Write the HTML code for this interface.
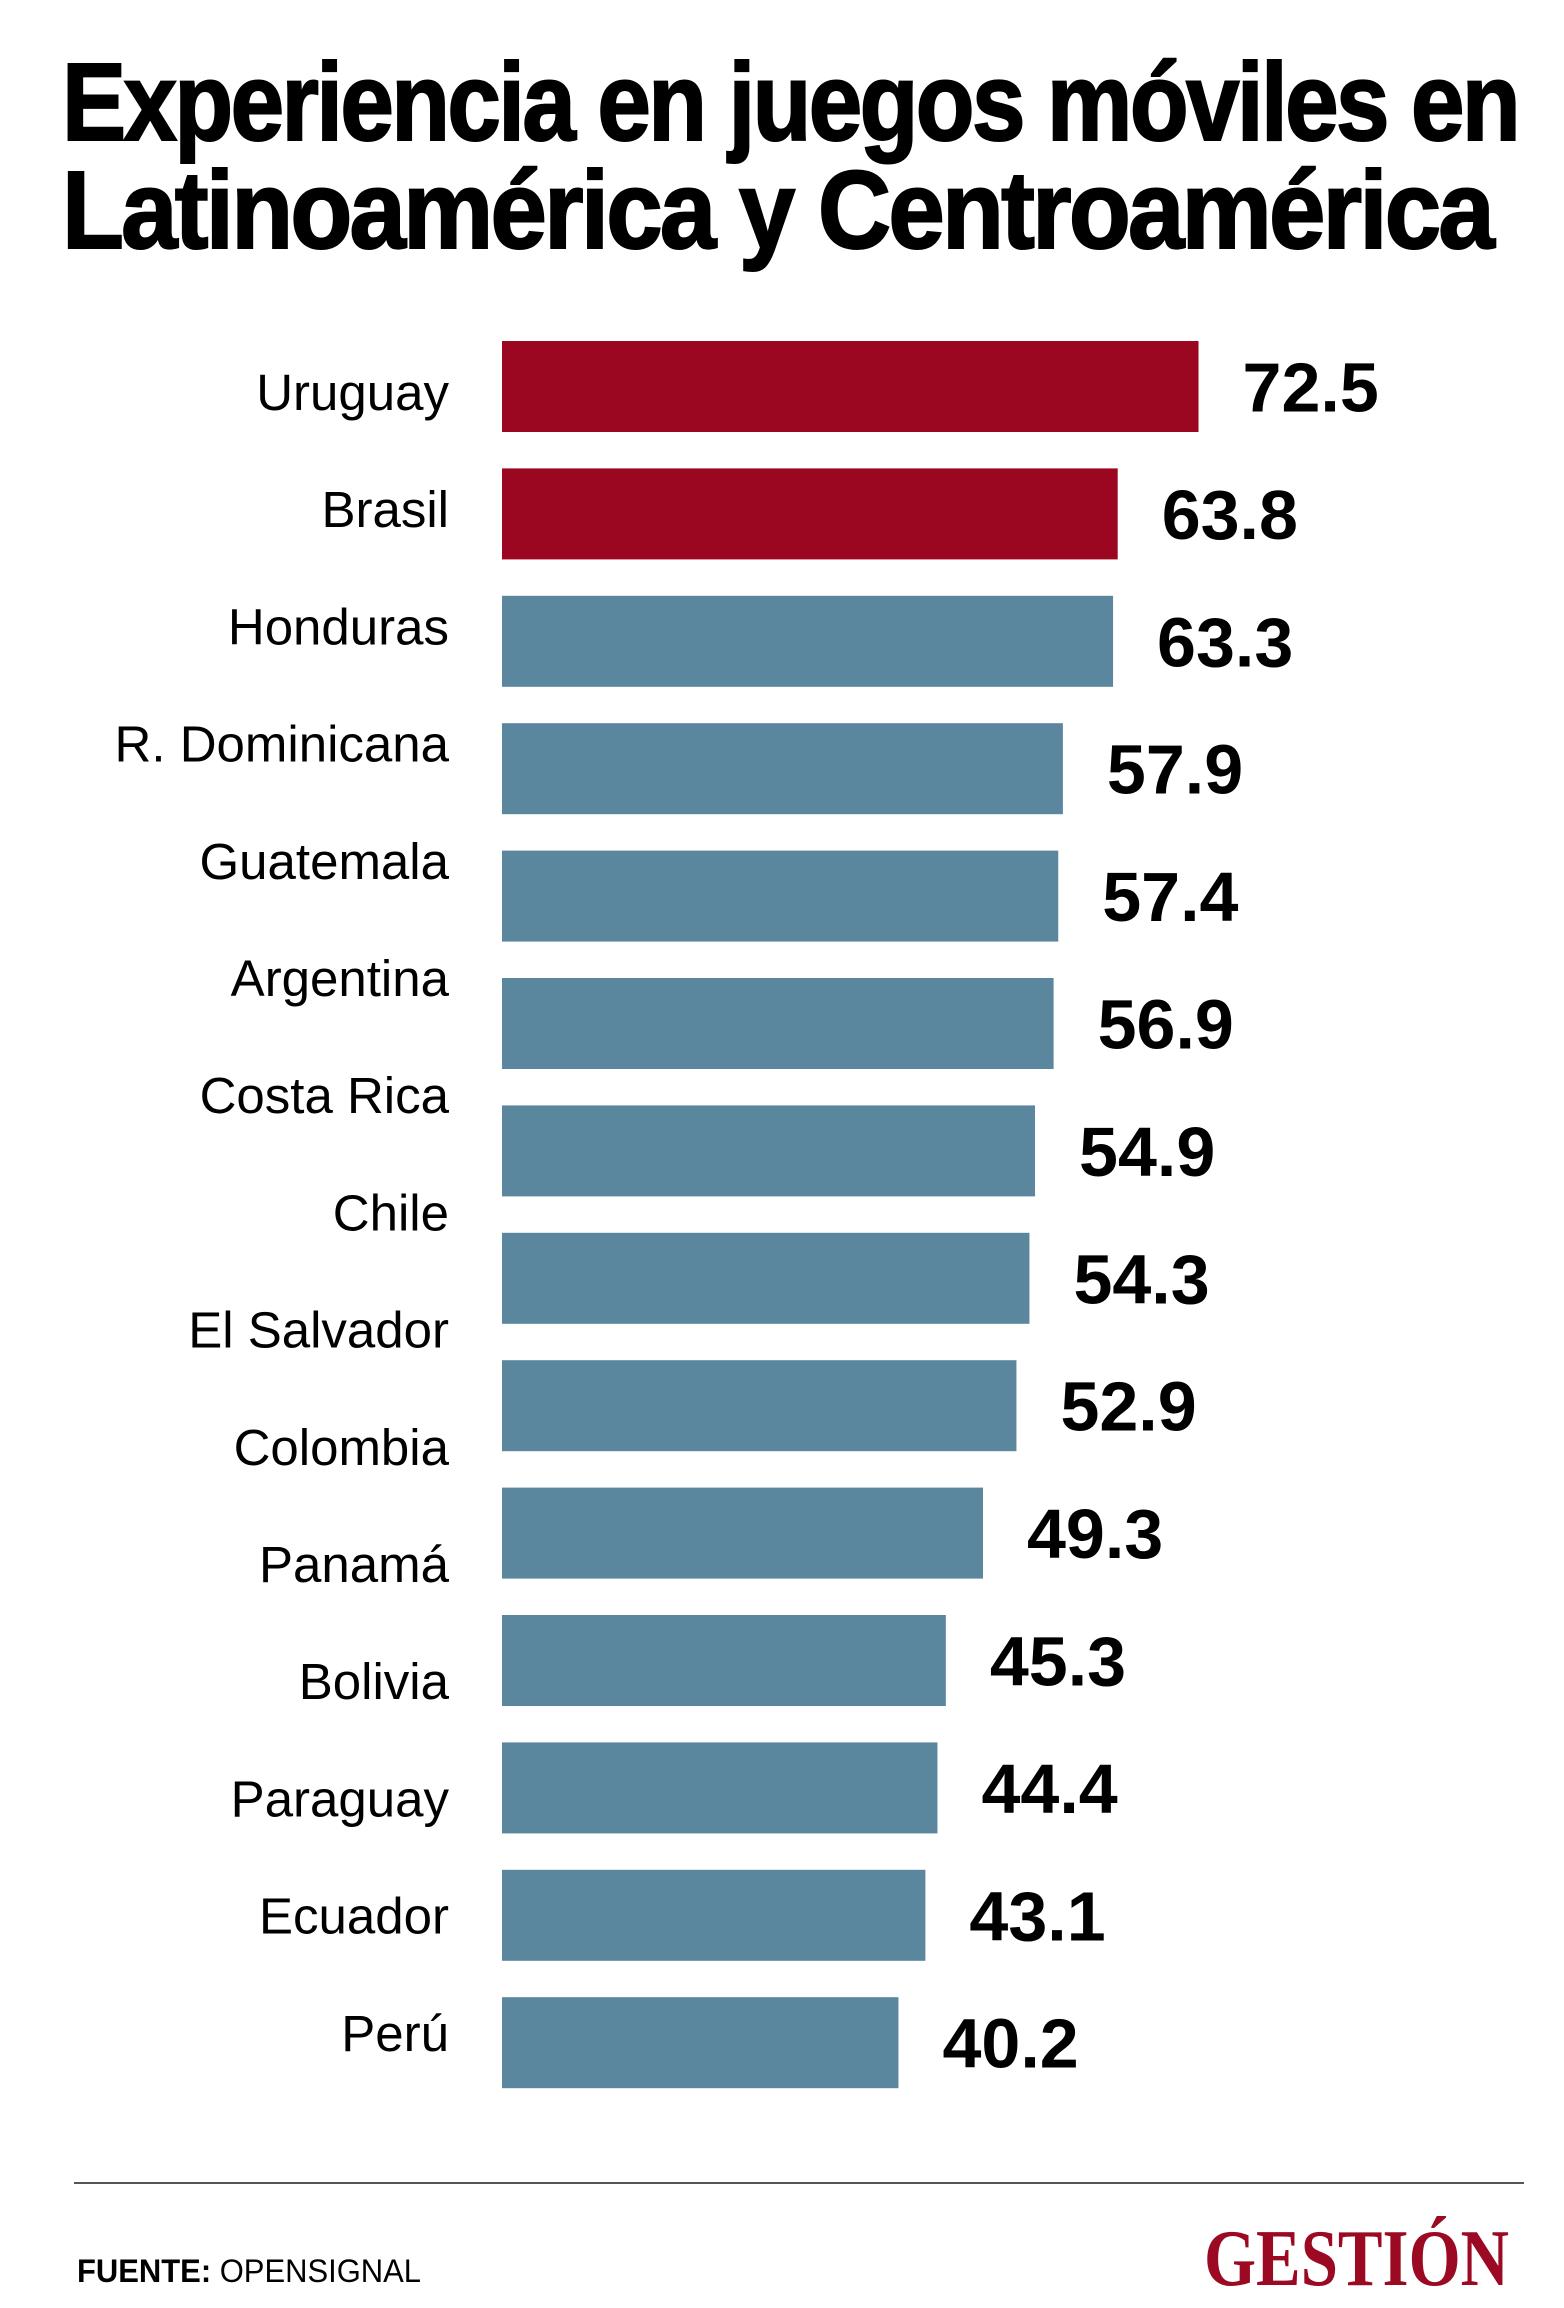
<!DOCTYPE html>
<html><head><meta charset="utf-8"><style>
html,body{margin:0;padding:0;background:#fff}
svg{display:block}
</style></head><body>
<svg id="chart" width="1564" height="2308" viewBox="0 0 1564 2308" xmlns="http://www.w3.org/2000/svg">
<g font-family="Liberation Sans, sans-serif" font-weight="bold" fill="#000">
<text x="62" y="140" font-size="110" textLength="1456" lengthAdjust="spacingAndGlyphs" letter-spacing="-3" stroke="#000" stroke-width="2">Experiencia en juegos móviles en</text>
<text x="62" y="248" font-size="110" textLength="1430" lengthAdjust="spacingAndGlyphs" letter-spacing="-3" stroke="#000" stroke-width="2">Latinoamérica y Centroamérica</text>
</g>
<g id="bars"></g>
<line x1="74" y1="2183" x2="1524" y2="2183" stroke="#555" stroke-width="2"/>
<text x="77" y="2282" font-family="Liberation Sans, sans-serif" font-size="32" fill="#000" textLength="344" lengthAdjust="spacingAndGlyphs"><tspan font-weight="bold">FUENTE:</tspan> OPENSIGNAL</text>
<text x="1204" y="2285" font-family="Liberation Serif, serif" font-weight="bold" font-size="80" fill="#9b0a22" textLength="305" lengthAdjust="spacingAndGlyphs">GESTIÓN</text>
</svg>
<script>
const categories = ["Uruguay","Brasil","Honduras","R. Dominicana","Guatemala","Argentina","Costa Rica","Chile","El Salvador","Colombia","Panamá","Bolivia","Paraguay","Ecuador","Perú"];
const values = [72.5,63.8,63.3,57.9,57.4,56.9,54.9,54.3,52.9,49.3,45.3,44.4,43.1,40.2];
const labels = ["72.5","63.8","63.3","57.9","57.4","56.9","54.9","54.3","52.9","49.3","45.3","44.4","43.1","40.2"];
const highlighted = ["Uruguay","Brasil"];

const NS = "http://www.w3.org/2000/svg";
const g = document.getElementById('bars');
const barLeft = 502;
function xScale(v){ return 525 + 9.29 * v; }
function barTop(i){ return 341 + i * 127.4; }
const barH = 91;
function labelY(i){ return 392 + i * 117.2; }

categories.forEach((c, i) => {
  const t = document.createElementNS(NS, 'text');
  
  
  t.setAttribute('x', 449);
  t.setAttribute('y', labelY(i) + 18);
  t.setAttribute('text-anchor', 'end');
  t.setAttribute('font-family', 'Liberation Sans, sans-serif');
  t.setAttribute('font-size', '51');
  t.setAttribute('fill', '#000');
  t.textContent = c;
  g.appendChild(t);
});

values.forEach((v, i) => {
  const name = categories[i];
  const x2 = xScale(v);
  const r = document.createElementNS(NS, 'rect');
  
  
  r.setAttribute('x', barLeft);
  r.setAttribute('y', barTop(i));
  r.setAttribute('width', x2 - barLeft);
  r.setAttribute('height', barH);
  r.setAttribute('fill', highlighted.includes(name) ? '#9b0620' : '#5b879e');
  g.appendChild(r);

  const t = document.createElementNS(NS, 'text');
  
  
  t.setAttribute('x', x2 + 44);
  t.setAttribute('y', barTop(i) + barH / 2 + 25);
  t.setAttribute('font-family', 'Liberation Sans, sans-serif');
  t.setAttribute('font-weight', 'bold');
  t.setAttribute('font-size', '70');
  t.setAttribute('fill', '#000');
  t.textContent = labels[i];
  g.appendChild(t);
});
</script>
</body></html>
